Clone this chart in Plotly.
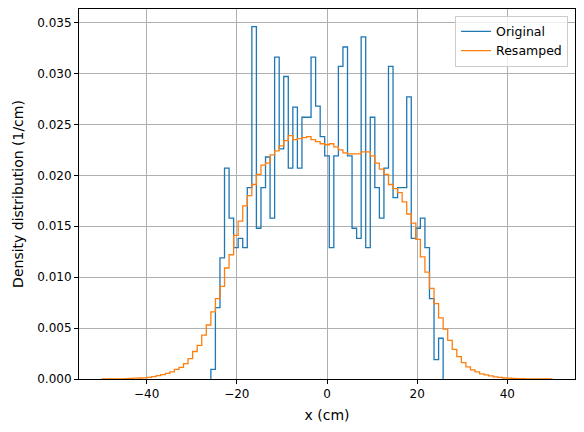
import numpy as np
import plotly.graph_objects as go

# both histograms share the same 1.01 cm bins spanning -50..50 cm
bin_edges = np.linspace(-50, 50, 100)
orig_first_bin = 24  # the original sample only fills bins 24..74

original_density = [
    0.00095, 0.0070, 0.0119, 0.0207, 0.0158, 0.0129, 0.0138, 0.0129, 0.0188, 0.0346,
    0.0148, 0.0188, 0.0218, 0.0158, 0.0316, 0.0226, 0.0297, 0.0207, 0.0267, 0.0207,
    0.0257, 0.0257, 0.0316, 0.0268, 0.0238, 0.0219, 0.0129, 0.0219, 0.0307, 0.0326,
    0.0219, 0.0148, 0.0138, 0.0336, 0.0129, 0.0257, 0.0188, 0.0158, 0.0207, 0.0307,
    0.0178, 0.0188, 0.0188, 0.0277, 0.0138, 0.0148, 0.0158, 0.0129, 0.0079, 0.0019,
    0.0040,
]

resampled_density = [
    0.0, 0.0, 0.0, 0.0, 0.00002, 0.00003, 0.00005, 0.00008, 0.0001, 0.00012,
    0.00015, 0.00023, 0.00033, 0.00043, 0.00056, 0.0007, 0.00095, 0.00115, 0.0015, 0.0020,
    0.0027, 0.0033, 0.0043, 0.0053, 0.0066, 0.0079, 0.0091, 0.0109, 0.0122, 0.0141,
    0.0155, 0.0170, 0.0180, 0.0191, 0.0201, 0.0210, 0.0212, 0.0220, 0.0224, 0.0229,
    0.0234, 0.0239, 0.0235, 0.0236, 0.0237, 0.0238, 0.0235, 0.0233, 0.0231, 0.0230,
    0.0231, 0.0228, 0.0225, 0.0222, 0.0221, 0.0221, 0.0221, 0.0223, 0.0223, 0.0219,
    0.0212, 0.0206, 0.0201, 0.0191, 0.0187, 0.0183, 0.0174, 0.0162, 0.0153, 0.0137,
    0.0120, 0.0105, 0.0089, 0.0074, 0.0060, 0.0049, 0.0038, 0.0029, 0.0022, 0.0016,
    0.0012, 0.0009, 0.0007, 0.0005, 0.0004, 0.0003, 0.0002, 0.00015, 0.0001, 0.00008,
    0.00005, 0.00004, 0.00003, 0.00002, 0.00001, 0.0, 0.0, 0.0, 0.0,
]


def step_outline(edges, values):
    # outline like matplotlib's histtype="step": up from the baseline, along the
    # bin tops, back down at the last edge
    edges = list(edges)
    values = list(values)
    xs = [edges[0]] + edges[:-1] + [edges[-1], edges[-1]]
    ys = [0.0] + values + [values[-1], 0.0]
    return xs, ys


orig_edges = bin_edges[orig_first_bin:orig_first_bin + len(original_density) + 1]

fig = go.Figure()
for name, edges, values, color in [
    ("Original", orig_edges, original_density, "#1f77b4"),
    ("Resamped", bin_edges, resampled_density, "#ff7f0e"),
]:
    xs, ys = step_outline(edges, values)
    fig.add_trace(go.Scatter(
        x=xs, y=ys, name=name, mode="lines",
        line=dict(color=color, width=1.3, shape="hv"),
    ))

fig.update_layout(
    width=584, height=432,
    margin=dict(l=79, r=9, t=9, b=53),
    paper_bgcolor="white", plot_bgcolor="white",
    font=dict(family="DejaVu Sans", size=12, color="black"),
    showlegend=True,
    legend=dict(
        x=0.986, y=0.982, xanchor="right", yanchor="top",
        bgcolor="rgba(255,255,255,0.8)", bordercolor="#cccccc", borderwidth=1,
        itemwidth=30, font=dict(size=12.5),
    ),
)
fig.update_xaxes(
    range=[-55, 55], tickvals=[-40, -20, 0, 20, 40], automargin=False,
    title=dict(text="x (cm)", standoff=9),
    showgrid=True, gridcolor="#b0b0b0", gridwidth=1, zeroline=False,
    showline=True, linecolor="black", linewidth=1, mirror=True,
    ticks="outside", ticklen=4, tickcolor="black",
)
fig.update_yaxes(
    range=[0, 0.03633], dtick=0.005, tick0=0, tickformat=".3f", automargin=False,
    title=dict(text="Density distribution (1/cm)", standoff=10),
    showgrid=True, gridcolor="#b0b0b0", gridwidth=1, zeroline=False,
    showline=True, linecolor="black", linewidth=1, mirror=True,
    ticks="outside", ticklen=4, tickcolor="black",
)

# the page's default body margin would push the 584x432 figure off the window
fig.write_html(
    "out.html",
    config={"displayModeBar": False},
    post_script="document.body.style.margin = '0';",
)
